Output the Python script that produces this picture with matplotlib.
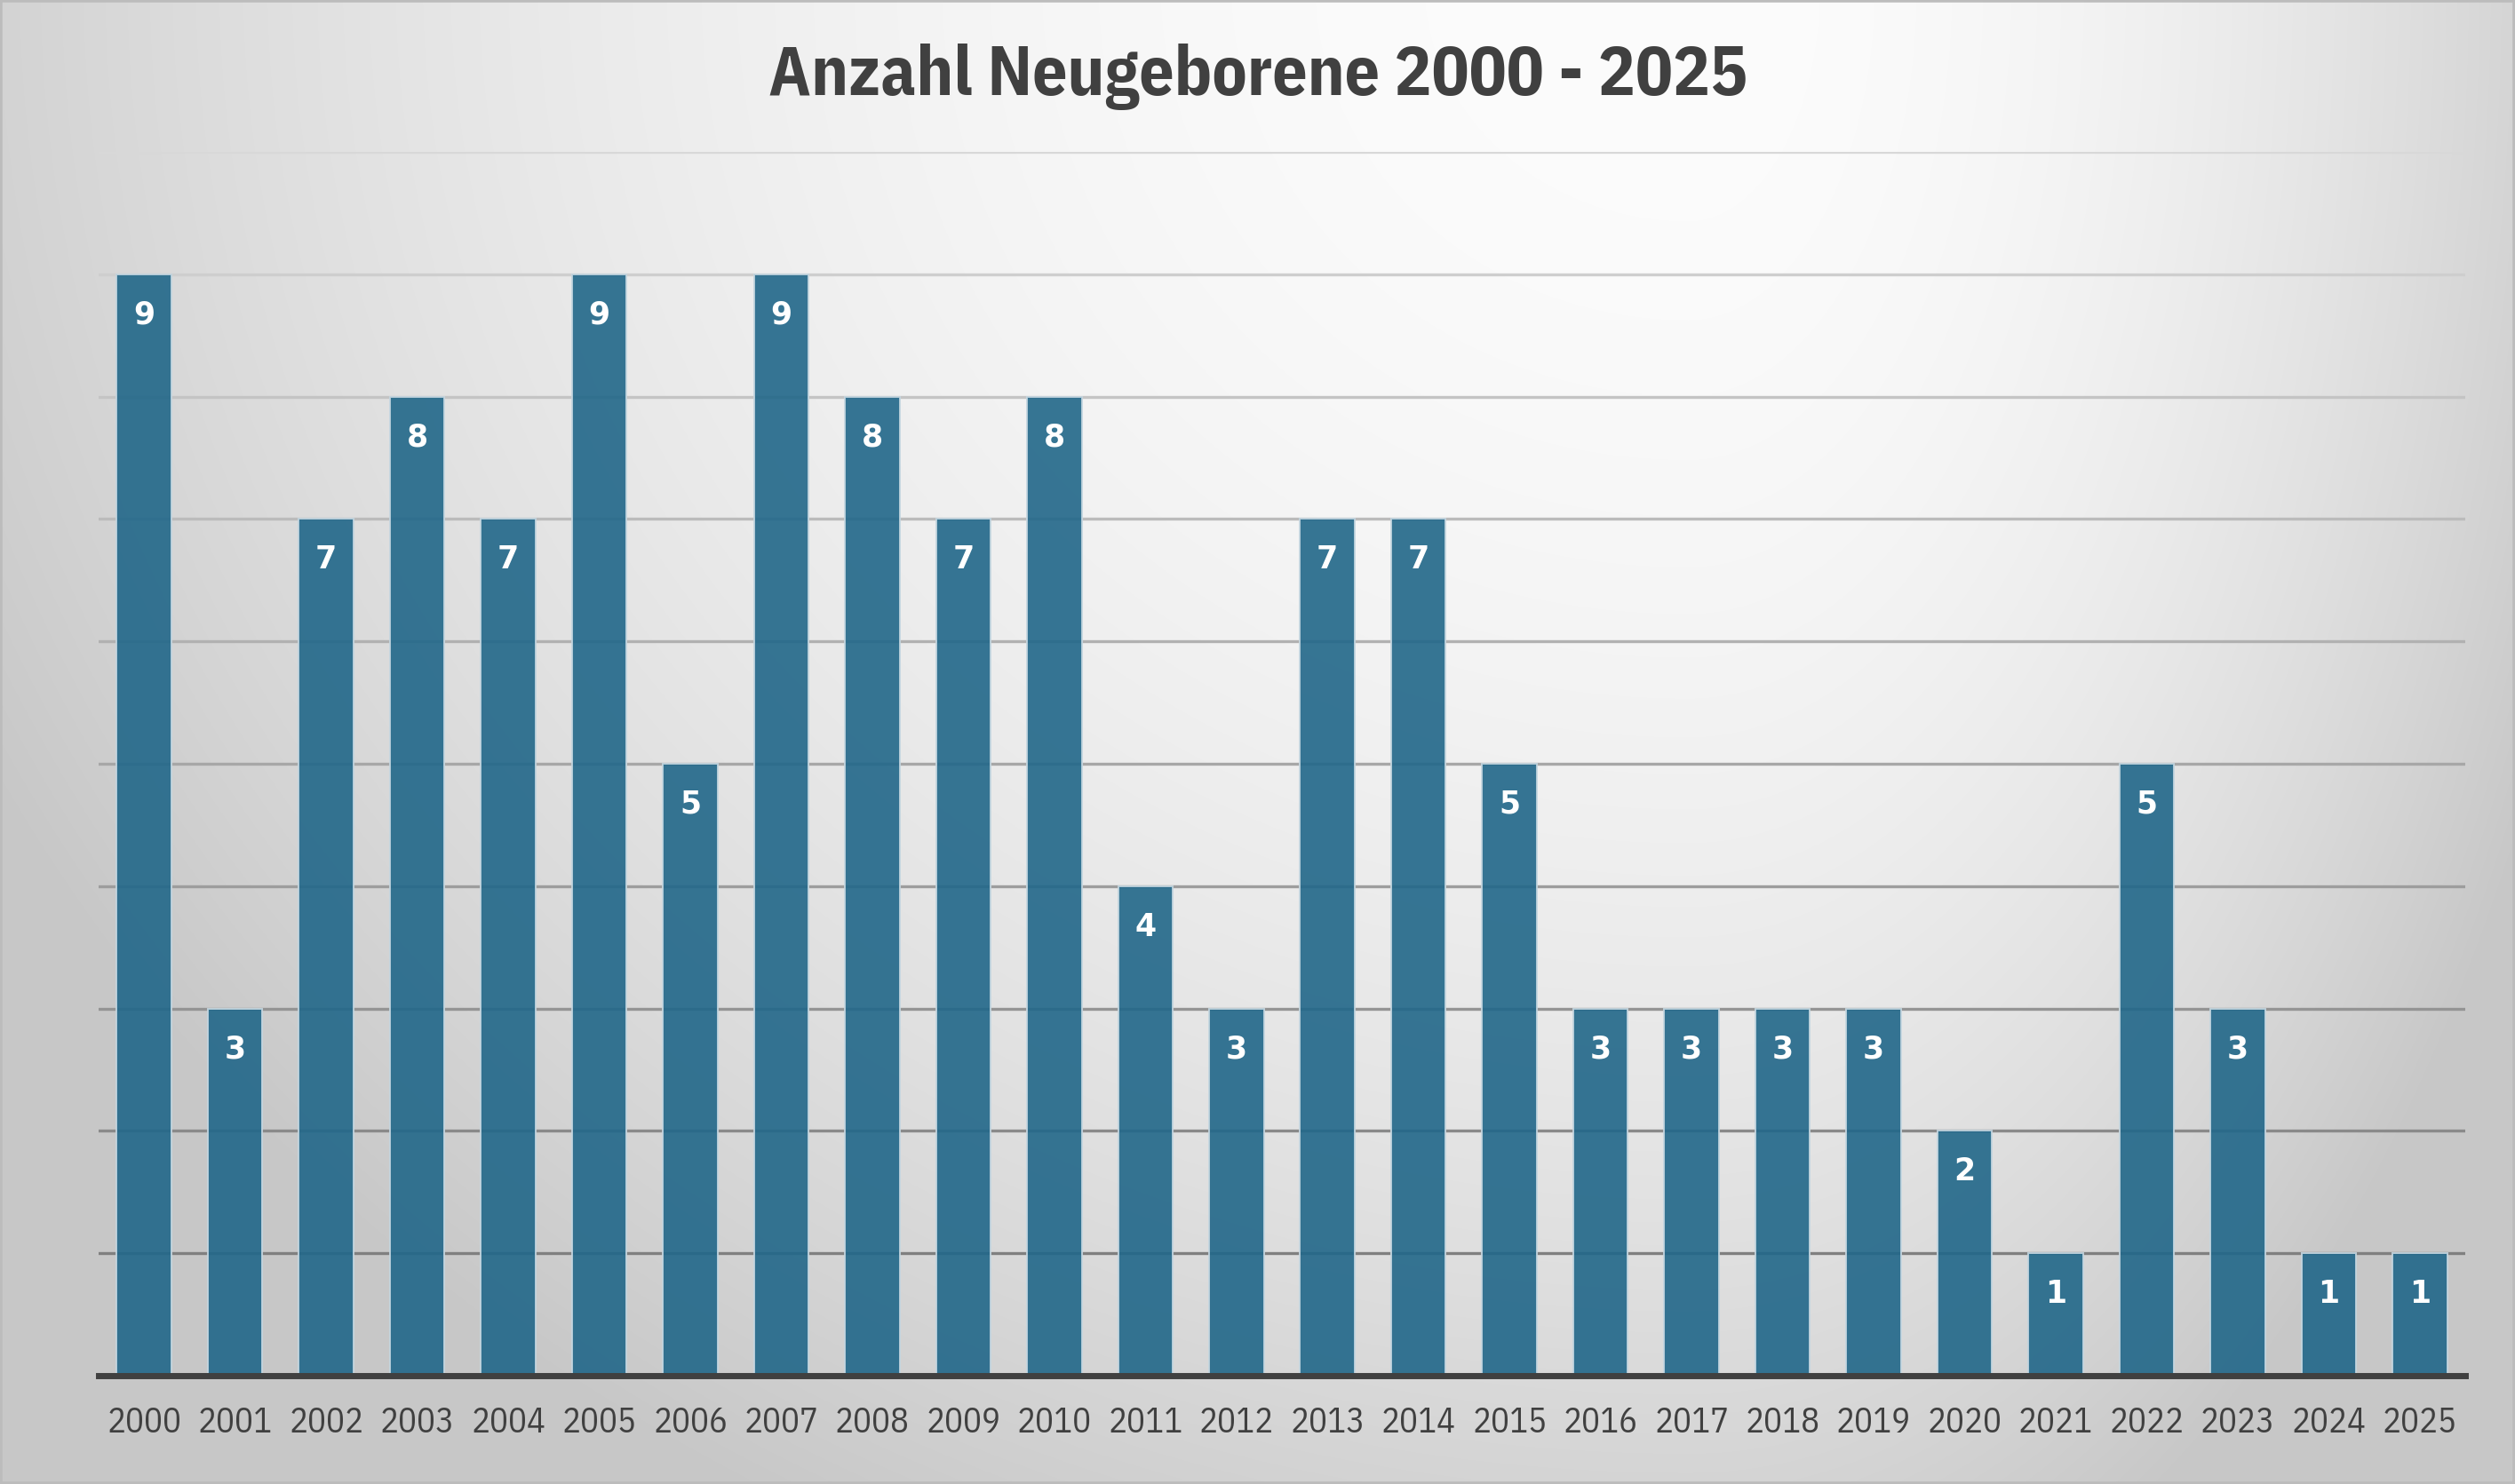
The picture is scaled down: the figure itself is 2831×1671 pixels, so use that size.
import numpy as np
import matplotlib
matplotlib.use("Agg")
import matplotlib.pyplot as plt
from matplotlib.patches import Rectangle

years = [str(y) for y in range(2000, 2026)]
births = [9, 3, 7, 8, 7, 9, 5, 9, 8, 7, 8, 4, 3, 7, 7, 5, 3, 3, 3, 3, 2, 1, 5, 3, 1, 1]
y_gridlines = [1, 2, 3, 4, 5, 6, 7, 8, 9, 10]
title = "Anzahl Neugeborene 2000 - 2025"

W, H, DPI = 2831, 1671, 100
TITLE_FONT = ["IBM Plex Sans Condensed", "DejaVu Sans"]
TICK_FONT = ["IBM Plex Sans Condensed", "DejaVu Sans"]

fig = plt.figure(figsize=(W / DPI, H / DPI), dpi=DPI)

# background radial-like gradient
bg = fig.add_axes([0, 0, 1, 1], zorder=-10)
xx, yy = np.meshgrid(np.arange(W), np.arange(H))
cx, cy = 1900.0, -20.0
ax_scale = np.where(xx < cx, 2100.0, 1050.0)
t = np.sqrt(((xx - cx) / ax_scale) ** 2 + ((yy - cy) / 1900.0) ** 2)
val = 252 - 50 * t ** 2
val = np.clip(val, 199, 252) / 255.0
img = np.dstack([val, val, val])
bg.imshow(img, aspect="auto", extent=[0, 1, 0, 1], origin="upper")
bg.set_axis_off()
fig.patches.append(Rectangle((0.0, 0.0), 1, 1, transform=fig.transFigure,
                             fill=False, edgecolor="#bcbcbc", linewidth=4, zorder=5))

ax = fig.add_axes([111 / W, 1 - 1549 / H, (2775 - 111) / W, (1549 - 171) / H])
ax.patch.set_alpha(0)
x = np.arange(len(years))
ax.set_xlim(-0.5, len(years) - 0.5)
ax.set_ylim(0, 10)

# gridlines: lighter at top, darker at bottom
lo = np.array([0x80, 0x80, 0x80]) / 255
hi = np.array([0xd8, 0xd8, 0xd8]) / 255
for g in y_gridlines:
    f = (g - 1) / 9
    c = lo + (hi - lo) * f
    ax.axhline(g, color=c, linewidth=2.4, zorder=1)

ax.bar(x, births, width=0.6, color="#216789", alpha=0.9,
       edgecolor="#c4d6e0", linewidth=1.4, zorder=2)

for xi, v in zip(x, births):
    ax.annotate(str(v), xy=(xi, v), xytext=(0, -33), textcoords="offset points",
                ha="center", va="center", color="white", fontsize=25,
                fontweight="bold", family="DejaVu Sans", zorder=4)

for s in ["top", "right", "left"]:
    ax.spines[s].set_visible(False)
ax.spines["bottom"].set_color("#404040")
ax.spines["bottom"].set_linewidth(5)
ax.spines["bottom"].set_zorder(3)

ax.set_yticks([])
ax.set_xticks(x)
ax.set_xticklabels(years, family=TICK_FONT, fontsize=28, color="#404040")
ax.tick_params(axis="x", length=0, pad=25)

fig.text(0.5, 1 - 87 / H, title, ha="center", va="center", fontsize=56,
         fontweight="bold", color="#404040", family=TITLE_FONT)

fig.savefig("out.png", dpi=DPI)
